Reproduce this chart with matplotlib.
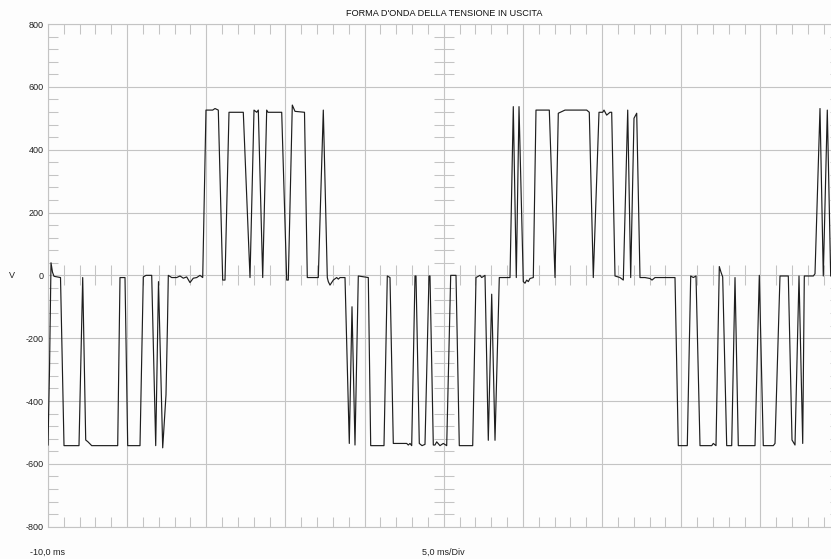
import numpy as np
import matplotlib
matplotlib.use("Agg")
from matplotlib import pyplot as plt
from matplotlib.ticker import MultipleLocator, FixedLocator

title = "FORMA D'ONDA DELLA TENSIONE IN USCITA"
y_ticks = [-800, -600, -400, -200, 0, 200, 400, 600, 800]
y_tick_labels = ["-800", "-600", "-400", "-200", "0", "200", "400", "600", "800"]
start_label = "-10,0 ms"
div_label = "5,0 ms/Div"
unit_label = "V"

# scope trace, time in ms / voltage in V
t_ms = [
    -10.000, -9.905, -9.810, -9.716, -9.621, -9.431, -9.210, -8.989, -8.042, -7.808,
    -7.618, -7.473, -7.239, -5.597, -5.452, -5.136, -4.965, -4.188, -3.980, -3.809,
    -3.449, -3.196, -3.020, -2.754, -2.546, -2.451, -2.400, -2.186, -1.870, -1.661,
    -1.453, -1.238, -1.030, -0.821, -0.606, -0.398, -0.227, -0.020, 0.404, 0.550,
    0.758, 1.036, 1.181, 1.434, 2.337, 2.761, 3.013, 3.184, 3.285, 3.563,
    3.815, 3.898, 4.763, 5.079, 5.180, 5.433, 5.603, 6.203, 6.380, 6.974,
    7.075, 7.391, 7.644, 7.707, 7.814, 8.023, 8.237, 8.338, 8.446, 8.762,
    9.033, 9.204, 9.393, 9.602, 10.234, 10.385, 11.225, 11.434, 11.604, 11.813,
    12.659, 12.760, 12.868, 12.975, 13.184, 13.247, 13.455, 13.626, 13.815, 14.068,
    14.131, 14.340, 14.447, 14.554, 14.763, 14.971, 15.186, 15.439, 15.774, 15.982,
    16.829, 17.037, 17.290, 17.397, 17.606, 17.814, 18.029, 18.238, 18.509, 19.185,
    19.393, 19.583, 19.754, 20.025, 20.133, 20.240, 20.341, 20.448, 20.657, 20.827,
    21.668, 22.028, 22.236, 22.659, 24.030, 24.194, 24.447, 24.807, 25.041, 25.123,
    25.293, 25.502, 25.609, 25.818, 26.134, 26.343, 26.621, 26.809, 27.018, 27.189,
    27.397, 27.713, 28.029, 28.155, 28.345, 29.608, 29.817, 30.385, 30.600, 30.764,
    30.935, 31.188, 31.927, 32.028, 32.198, 32.407, 32.514, 32.621, 32.874, 33.190,
    33.399, 33.607, 34.662, 34.934, 35.186, 35.818, 35.926, 36.241, 36.766, 37.000,
    37.189, 37.442, 37.676, 37.777, 38.346, 38.452, 38.768, 38.976, 39.229, 39.443,
    39.652,
]
volts = [
    -540, -300, 40, 10, -3, -5, -7, -542, -542, -7,
    -524, -530, -542, -542, -7, -7, -542, -542, -5, 0,
    0, -542, -20, -549, -380, -150, 0, -7, -7, -2,
    -9, -5, -23, -9, -7, 0, -7, 526, 526, 531,
    526, -15, -15, 519, 519, -7, 526, 519, 526, -7,
    526, 519, 519, -15, -15, 542, 522, 519, -7, -7,
    -7, 526, -7, -20, -31, -15, -7, -12, -7, -7,
    -535, -100, -540, -2, -7, -542, -542, -2, -7, -535,
    -535, -540, -535, -542, -2, -2, -535, -542, -538, -2,
    -2, -540, -540, -530, -542, -535, -542, 0, 0, -542,
    -542, -7, 0, -7, 0, -525, -60, -525, -7, -7,
    537, -7, 537, -20, -25, -15, -20, -10, -7, 526,
    526, -7, 516, 526, 526, 519, -7, 519, 519, 526,
    510, 519, 519, -2, -7, -15, 526, -7, 500, 516,
    -7, -7, -10, -15, -7, -7, -542, -542, -2, -7,
    -2, -542, -542, -535, -542, 28, 10, -5, -542, -542,
    -7, -542, -542, 0, -542, -542, -535, -2, -2, -524,
    -540, -2, -535, -2, -2, 5, 531, -2, 526, -2,
    -2,
]

gridc = "#c4c4c4"
plt.rcParams['font.family'] = ['Liberation Sans', 'DejaVu Sans']

fig = plt.figure(figsize=(8.31, 5.59), dpi=100)
fig.patch.set_facecolor("#fdfdfd")
# the scope screen runs a bit past the right border of the window
ax = fig.add_axes([48 / 831, (559 - 526.7) / 559, 791.5 / 831, 502.7 / 559])
ax.set_facecolor("#fdfdfd")
ax.set_xlim(-10, 40)
ax.set_ylim(-800, 800)

ax.xaxis.set_major_locator(MultipleLocator(5))
ax.xaxis.set_minor_locator(MultipleLocator(1))
ax.yaxis.set_major_locator(FixedLocator(y_ticks))
ax.yaxis.set_minor_locator(MultipleLocator(40))
ax.set_yticklabels(y_tick_labels)
ax.tick_params(axis='x', which='major', length=0, labelbottom=False)
ax.tick_params(axis='y', which='major', length=0, pad=3, labelsize=6.5, labelcolor="#222222")
ax.tick_params(which='minor', direction='in', length=7.2, width=0.75, color=gridc,
               top=True, bottom=True, left=True, right=True)
ax.grid(True, which='major', color=gridc, lw=0.8)
ax.set_axisbelow(True)
for s in ax.spines.values():
    s.set_color(gridc)
    s.set_linewidth(0.8)

# crossing ticks on the centre lines of the screen
minor_t = np.arange(-10, 41, 1)
minor_t = minor_t[minor_t % 5 != 0]
minor_v = np.arange(-800, 801, 40)
minor_v = minor_v[minor_v % 200 != 0]
ax.plot(np.full(len(minor_v), 15.0), minor_v, ls='none', marker='_', ms=14.4,
        mew=0.75, color=gridc, zorder=1)
ax.plot(minor_t, np.zeros(len(minor_t)), ls='none', marker='|', ms=14.4,
        mew=0.75, color=gridc, zorder=1)

ax.plot(t_ms, volts, color="#1e1e1e", lw=0.85, zorder=3)

ax.set_title(title, fontsize=6.6, pad=5.5, color="#111111")
fig.text(12 / 831, 1 - 275 / 559, unit_label, ha='center', va='center', fontsize=6.5, color="#222222")
fig.text(47 / 831, 1 - 552 / 559, start_label, ha='center', va='center', fontsize=6.5, color="#222222")
fig.text(443.5 / 831, 1 - 552 / 559, div_label, ha='center', va='center', fontsize=6.5, color="#222222")

fig.savefig("out.png", dpi=100, facecolor=fig.get_facecolor())
